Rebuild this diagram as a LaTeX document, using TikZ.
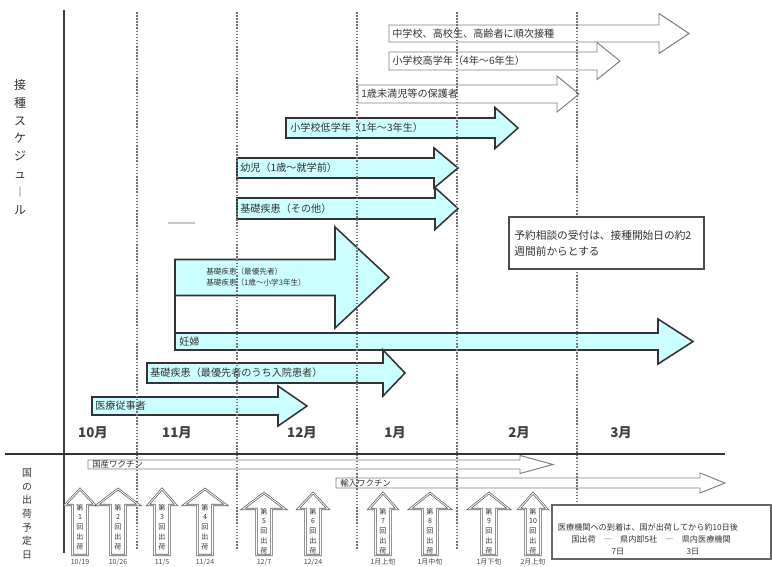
\documentclass[tikz,border=0pt]{standalone}
\usepackage{fontspec}
\setmainfont{Noto Sans CJK JP}
\usetikzlibrary{positioning}
\definecolor{pastecyan}{HTML}{CCFFFF}
\definecolor{inkgray}{HTML}{333333}
% block arrow: [style]{left}{head start}{tip}{mid y}{half body}{half head}
\newcommand{\schedarrow}[7][]{%
  \draw [#1] (#2,#5-#6) -- (#3,#5-#6) -- (#3,#5-#7) -- (#4,#5)
    -- (#3,#5+#7) -- (#3,#5+#6) -- (#2,#5+#6) -- cycle;}

\begin{document}
\begin{tikzpicture}
  [x=0.025cm,y=-0.025cm,
   cyanarrow/.style={draw=inkgray,line width=1.1pt,fill=pastecyan},
   whitearrow/.style={draw=black!50,line width=0.7pt,fill=white},
   shiparrow/.style={draw=black!65,double=white,double distance=0.6pt,line width=0.5pt},
   monthgrid/.style={draw=black!55,line width=0.8pt,dash pattern=on 1.1pt off 1.1pt},
   barlabel/.style={anchor=west,inner sep=0pt,text=inkgray,font=\fontsize{7.2}{8.6}\selectfont},
   monthlabel/.style={inner sep=0pt,text=black!75,font=\fontsize{9.5}{11}\selectfont\bfseries},
   sidetitle/.style={inner sep=0pt,align=center,text=inkgray,font=\fontsize{8.5}{12.7}\selectfont},
   shiptext/.style={inner sep=0pt,align=center,text=inkgray,font=\fontsize{5}{7}\selectfont},
   datetext/.style={inner sep=0pt,text=black!70,font=\fontsize{5}{6}\selectfont},
   boxtext/.style={inner sep=0pt,text=inkgray,font=\fontsize{5.8}{7}\selectfont}]
  \useasboundingbox [fill=white] (0,0) rectangle (772,567);

  % schedule arrows
  \schedarrow[whitearrow]{389}{659}{689}{33.5}{8.5}{20}
  \schedarrow[whitearrow]{389}{597}{620}{61}{9}{18.5}
  \schedarrow[whitearrow]{358}{557}{579}{94}{9}{18}
  \schedarrow[cyanarrow]{286}{495}{518}{128}{10}{20.5}
  \schedarrow[cyanarrow]{237}{434}{458}{168}{10}{20}
  \schedarrow[cyanarrow]{237}{435}{458}{208.5}{10.5}{21}
  \schedarrow[cyanarrow]{175}{335}{389}{277.5}{18}{50.5}
  \draw [draw=inkgray,line width=1.1pt] (175,295.5) -- (175,333);
  \schedarrow[cyanarrow]{175}{658}{693}{341.5}{8.5}{22.5}
  \schedarrow[cyanarrow]{147}{383}{405}{373}{10}{23}
  \schedarrow[cyanarrow]{92}{278}{307}{406}{9}{20}
  \draw [gray!45,line width=1.8pt] (168,223) -- (195,223);

  % vaccine arrows
  \schedarrow[whitearrow]{88}{520}{553}{464.5}{4.5}{9}
  \schedarrow[whitearrow]{336}{700}{725}{483}{5}{10}

  % month grid and axes
  \foreach \gx in {137,237,357,457,577}
    \draw [monthgrid] (\gx,12) -- (\gx,549);
  \draw [black!75,line width=1.8pt] (64,10) -- (64,553);
  \draw [black!80,line width=1.6pt] (5,454) -- (725,454);

  \node (laterall) at (392,33.5) [barlabel] {中学校、高校生、高齢者に順次接種};
  \node (upperpri) at (392,61) [barlabel] {小学校高学年（4年～6年生）};
  \node (infantpar) at (361,94) [barlabel] {1歳未満児等の保護者};
  \node (lowerpri) at (290,128) [barlabel] {小学校低学年（1年～3年生）};
  \node (toddler) at (240,168) [barlabel] {幼児（1歳～就学前）};
  \node (chronicother) at (240,208.5) [barlabel] {基礎疾患（その他）};
  \node (chronictop) at (206,277.5) [barlabel,align=left,font=\fontsize{5.4}{7.8}\selectfont]
    {基礎疾患（最優先者）\\基礎疾患（1歳～小学3年生）};
  \node (pregnant) at (179,341.5) [barlabel] {妊婦};
  \node (inpatient) at (150,373) [barlabel] {基礎疾患（最優先者のうち入院患者）};
  \node (medstaff) at (95,406) [barlabel] {医療従事者};

  \node (domestic) at (92,464.5) [barlabel,font=\fontsize{6}{7}\selectfont] {国産ワクチン};
  \node (imported) at (340,483) [barlabel,font=\fontsize{6}{7}\selectfont] {輸入ワクチン};

  \node (monthoct) at (93,433) [monthlabel] {10月};
  \node (monthnov) at (177,433) [monthlabel] {11月};
  \node (monthdec) at (302,433) [monthlabel] {12月};
  \node (monthjan) at (395,433) [monthlabel] {1月};
  \node (monthfeb) at (519,433) [monthlabel] {2月};
  \node (monthmar) at (621,433) [monthlabel] {3月};

  \node (schedtitle) at (20,147) [sidetitle] {接\\種\\ス\\ケ\\ジ\\ュ\\︱\\ル};
  \node (shiptitle) at (27,514) [sidetitle,font=\fontsize{7}{9.7}\selectfont]
    {国\\の\\出\\荷\\予\\定\\日};

  \node (bookingnote) at (606.5,243) [draw=black!70,line width=0.8pt,fill=white,
    minimum width=4.875cm,minimum height=1.3cm,text width=4.6cm,align=left,
    inner sep=0pt,text=inkgray,font=\fontsize{7.6}{11.3}\selectfont]
    {予約相談の受付は、接種開始日の約2\\週間前からとする};

  % shipment arrows
  \foreach \cx/\hw/\ty/\num/\dt in {80/15/489/1/{10/19},118/21/489/2/{10/26},
      162/14/489/3/{11/5},205/21/489/4/{11/24},264/21/493/5/{12/7},
      313/15/493/6/{12/24},383/14/493/7/1月上旬,430/20/493/8/1月中旬,
      489/20/493/9/1月下旬,533/14/493/10/2月上旬} {
    \draw [shiparrow,fill=white] (\cx-7.5,555) -- (\cx-7.5,\ty+16) -- (\cx-\hw,\ty+16)
      -- (\cx,\ty) -- (\cx+\hw,\ty+16) -- (\cx+7.5,\ty+16) -- (\cx+7.5,555) -- cycle;
    \node (ship\num) at (\cx,\ty+38) [shiptext] {第\\\num\\回\\出\\荷};
    \node (date\num) at (\cx,562) [datetext] {\dt};
  }

  \draw [draw=black!60,line width=0.8pt,fill=white] (552,505) rectangle (771,559);
  \node (arrivalnote) at (648,527) [boxtext] {医療機関への到着は、国が出荷してから約10日後};
  \node (routenote) at (651,539) [boxtext] {国出荷　―　県内卸5社　―　県内医療機関};
  \node (daysfirst) at (618,552) [boxtext] {7日};
  \node (dayssecond) at (693,552) [boxtext] {3日};
\end{tikzpicture}
\end{document}
